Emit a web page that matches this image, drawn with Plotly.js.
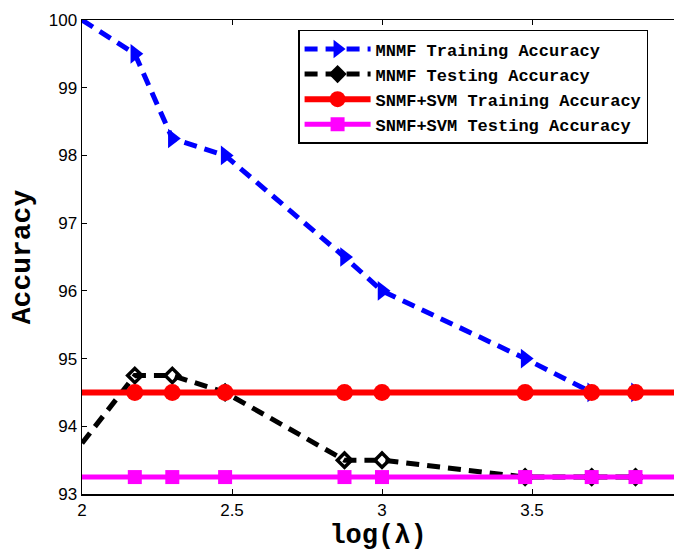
<!DOCTYPE html>
<html>
<head>
<meta charset="utf-8">
<script src="https://cdn.plot.ly/plotly-3.0.1.min.js"></script>
<style>html,body{margin:0;padding:0;background:#fff;}#chart{width:674px;height:551px;}</style>
</head>
<body>
<div id="chart"></div>
<script>
// log(lambda) positions
var xMNMF = [2.0, 2.176, 2.301, 2.477, 2.875, 3.0, 3.477, 3.699, 3.845];
var mnmfTrain = [100.0, 99.5, 98.25, 98.0, 96.5, 96.0, 95.0, 94.5, 94.5];
var mnmfTest = [93.75, 94.75, 94.75, 94.5, 93.5, 93.5, 93.25, 93.25, 93.25];
var xSNMF = [2.0, 2.176, 2.301, 2.477, 2.875, 3.0, 3.477, 3.699, 3.845, 4.0];
var snmfTrain = [94.5, 94.5, 94.5, 94.5, 94.5, 94.5, 94.5, 94.5, 94.5, 94.5];
var snmfTest = [93.25, 93.25, 93.25, 93.25, 93.25, 93.25, 93.25, 93.25, 93.25, 93.25];
var seriesNames = ["MNMF Training Accuracy", "MNMF Testing Accuracy", "SNMF+SVM Training Accuracy", "SNMF+SVM Testing Accuracy"];
var xTickVals = [2, 2.5, 3, 3.5];
var xTickText = ["2", "2.5", "3", "3.5"];
var yTickVals = [93, 94, 95, 96, 97, 98, 99, 100];

// end points lying on the axis edges carry no visible marker
function visColors(xs, col) {
  return xs.map(function (x) { return (x <= 2.0 || x >= 3.95) ? "rgba(0,0,0,0)" : col; });
}

var styles = [
  {col: "#0000ff", sym: "triangle-right", size: 17, lw: 5, dash: "13px,8px", mlw: 0, lsym: "triangle-right", lsize: 17, lmlw: 0},
  {col: "#000000", sym: "diamond-open", size: 11, lw: 5, dash: "13px,8px", mlw: 3.5, lsym: "diamond", lsize: 14, lmlw: 0},
  {col: "#ff0000", sym: "circle", size: 17, lw: 6, dash: "solid", mlw: 0, lsym: "circle", lsize: 17, lmlw: 0},
  {col: "#ff00ff", sym: "square", size: 14, lw: 5, dash: "solid", mlw: 0, lsym: "square", lsize: 14, lmlw: 0}
];
var dataSets = [[xMNMF, mnmfTrain], [xMNMF, mnmfTest], [xSNMF, snmfTrain], [xSNMF, snmfTest]];

var traces = [];
dataSets.forEach(function (d, i) {
  var s = styles[i];
  var mc = visColors(d[0], s.col);
  traces.push({
    x: d[0], y: d[1], name: seriesNames[i], type: "scatter", mode: "lines+markers",
    showlegend: false, legendgroup: "g" + i,
    line: {color: s.col, width: s.lw, dash: s.dash},
    marker: {symbol: s.sym, size: s.size, color: mc, line: {color: mc, width: s.mlw}}
  });
});
// legend entries (no plotted points)
dataSets.forEach(function (d, i) {
  var s = styles[i];
  traces.push({
    x: [null], y: [null], name: seriesNames[i], type: "scatter", mode: "lines+markers",
    showlegend: true, legendgroup: "g" + i,
    line: {color: s.col, width: s.lw, dash: s.dash},
    marker: {symbol: s.lsym, size: s.lsize, color: s.col, line: {color: s.col, width: s.lmlw}}
  });
});

var layout = {
  width: 674, height: 551,
  margin: {l: 82, r: 0, t: 20, b: 57, pad: 0},
  paper_bgcolor: "#ffffff", plot_bgcolor: "#ffffff",
  showlegend: true,
  legend: {
    x: 0.365, y: 0.979, xanchor: "left", yanchor: "top",
    bgcolor: "#ffffff", bordercolor: "#000000", borderwidth: 1.5,
    font: {family: "Liberation Mono, Courier New, monospace", size: 17, color: "#000", weight: "bold"},
    itemwidth: 66, tracegroupgap: 0, traceorder: "normal"
  },
  xaxis: {
    range: [2, 2 + 592 / 300], tickmode: "array", tickvals: xTickVals, ticktext: xTickText,
    ticks: "inside", ticklen: 5, tickcolor: "#000", tickwidth: 1,
    showline: true, linecolor: "#000", linewidth: 1.5, mirror: "ticks",
    showgrid: false, zeroline: false,
    tickfont: {family: "Liberation Sans, Arial, sans-serif", size: 17, color: "#000"},
    title: {text: "log(\u03bb)", standoff: 6,
            font: {family: "Liberation Mono, Courier New, monospace", size: 27, color: "#000", weight: "bold"}}
  },
  yaxis: {
    range: [93, 100], tickmode: "array", tickvals: yTickVals,
    ticks: "inside", ticklen: 5, tickcolor: "#000", tickwidth: 1,
    showline: true, linecolor: "#000", linewidth: 1.5, mirror: false,
    showgrid: false, zeroline: false,
    tickfont: {family: "Liberation Sans, Arial, sans-serif", size: 17, color: "#000"},
    title: {text: "Accuracy", standoff: 10,
            font: {family: "Liberation Mono, Courier New, monospace", size: 28, color: "#000", weight: "bold"}}
  }
};

Plotly.newPlot("chart", traces, layout, {displayModeBar: false, staticPlot: true});
</script>
</body>
</html>
